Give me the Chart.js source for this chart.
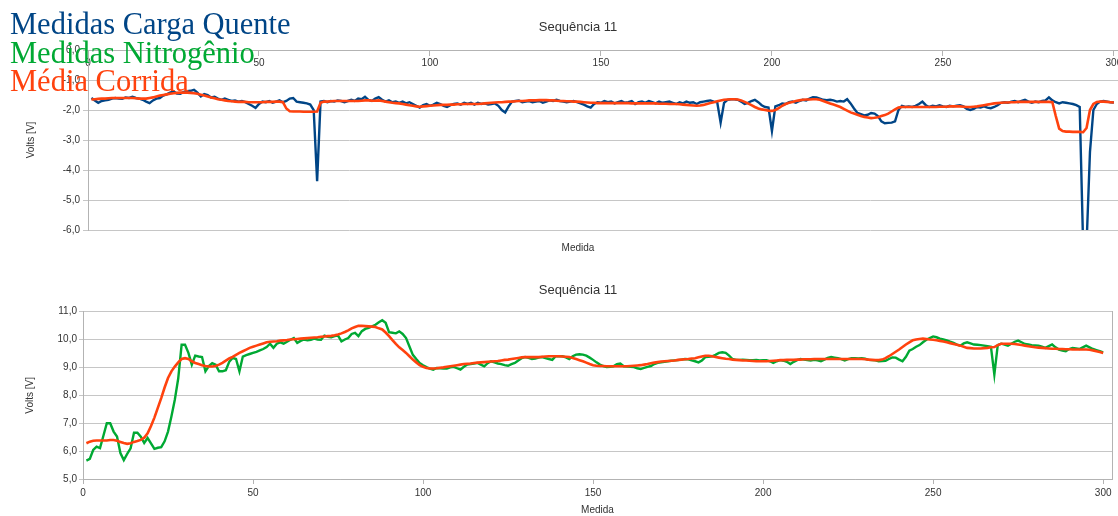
<!DOCTYPE html>
<html>
<head>
<meta charset="utf-8">
<script src="https://cdn.jsdelivr.net/npm/chart.js@4"></script>
<style>
  html, body { margin: 0; padding: 0; background: #fff; overflow: hidden; }
  #wrap { position: relative; width: 1118px; height: 516px; overflow: hidden; }
  #topo { position: absolute; left: 0; top: 0; }
  #baixo { position: absolute; left: 0; top: 260px; }
  #legenda { position: absolute; left: 10px; top: 10px; font-family: "Liberation Serif", serif; font-size: 30.5px; line-height: 28.5px; white-space: nowrap; }
</style>
</head>
<body>
<div id="wrap">
  <canvas id="topo" width="1156" height="260"></canvas>
  <canvas id="baixo" width="1156" height="256"></canvas>
  <div id="legenda">
    <div style="color:#004586">Medidas Carga Quente</div>
    <div style="color:#00a933">Medidas Nitrogênio</div>
    <div style="color:#ff420e">Média Corrida</div>
  </div>
</div>
<script>
// indice da medida (1..300)
const medida = Array.from({ length: 300 }, (_, i) => i + 1);

// grafico de cima: carga quente + media corrida
const cargaQuente = [
  -1.60,-1.68,-1.76,-1.70,-1.68,-1.66,-1.62,-1.60,-1.62,-1.63,
  -1.58,-1.60,-1.56,-1.60,-1.62,-1.66,-1.72,-1.77,-1.68,-1.62,
  -1.60,-1.52,-1.48,-1.42,-1.38,-1.45,-1.46,-1.40,-1.37,-1.36,
  -1.33,-1.42,-1.55,-1.47,-1.50,-1.58,-1.56,-1.62,-1.66,-1.62,
  -1.66,-1.70,-1.68,-1.72,-1.70,-1.74,-1.80,-1.86,-1.93,-1.80,
  -1.72,-1.74,-1.70,-1.76,-1.72,-1.68,-1.74,-1.70,-1.62,-1.60,
  -1.72,-1.74,-1.76,-1.78,-1.82,-2.00,-4.37,-1.72,-1.70,-1.74,
  -1.70,-1.72,-1.68,-1.70,-1.74,-1.70,-1.66,-1.70,-1.62,-1.64,
  -1.56,-1.66,-1.70,-1.62,-1.57,-1.66,-1.72,-1.68,-1.74,-1.72,
  -1.76,-1.72,-1.78,-1.74,-1.80,-1.86,-1.92,-1.84,-1.80,-1.86,
  -1.82,-1.76,-1.80,-1.86,-1.90,-1.84,-1.80,-1.78,-1.82,-1.76,
  -1.80,-1.76,-1.82,-1.76,-1.80,-1.78,-1.82,-1.80,-1.78,-1.86,
  -2.00,-2.08,-1.88,-1.72,-1.70,-1.68,-1.74,-1.72,-1.70,-1.74,
  -1.72,-1.70,-1.76,-1.72,-1.68,-1.70,-1.66,-1.70,-1.72,-1.74,
  -1.72,-1.70,-1.74,-1.78,-1.82,-1.88,-1.92,-1.80,-1.74,-1.76,
  -1.70,-1.74,-1.72,-1.78,-1.74,-1.70,-1.76,-1.74,-1.70,-1.80,
  -1.74,-1.72,-1.76,-1.70,-1.74,-1.78,-1.72,-1.76,-1.74,-1.72,
  -1.76,-1.80,-1.74,-1.78,-1.72,-1.76,-1.74,-1.80,-1.74,-1.72,
  -1.70,-1.68,-1.72,-1.74,-2.42,-1.76,-1.66,-1.64,-1.64,-1.66,
  -1.72,-1.80,-1.76,-1.70,-1.66,-1.74,-1.84,-1.90,-1.92,-2.70,
  -1.88,-1.84,-1.78,-1.80,-1.74,-1.72,-1.76,-1.70,-1.66,-1.68,
  -1.62,-1.57,-1.58,-1.62,-1.66,-1.67,-1.66,-1.68,-1.72,-1.70,
  -1.72,-1.64,-1.78,-1.95,-2.10,-2.14,-2.18,-2.16,-2.10,-2.12,
  -2.20,-2.38,-2.44,-2.43,-2.42,-2.38,-2.00,-1.86,-1.90,-1.88,
  -1.90,-1.86,-1.80,-1.72,-1.84,-1.90,-1.86,-1.88,-1.84,-1.88,
  -1.90,-1.86,-1.88,-1.86,-1.84,-1.88,-1.96,-2.00,-1.96,-1.90,
  -1.92,-1.88,-1.92,-1.94,-1.90,-1.84,-1.76,-1.74,-1.76,-1.72,
  -1.70,-1.74,-1.70,-1.66,-1.72,-1.76,-1.72,-1.74,-1.70,-1.68,
  -1.58,-1.68,-1.74,-1.78,-1.74,-1.76,-1.78,-1.80,-1.84,-1.90,
  -6.50,-6.50,-3.40,-2.00,-1.80,-1.72,-1.70,-1.72,-1.74,-1.75
];

const mediaTopo = [
  -1.65,-1.64,-1.63,-1.62,-1.62,-1.61,-1.60,-1.60,-1.60,-1.60,
  -1.60,-1.60,-1.60,-1.61,-1.62,-1.62,-1.62,-1.60,-1.58,-1.55,
  -1.52,-1.50,-1.48,-1.46,-1.44,-1.43,-1.42,-1.42,-1.42,-1.43,
  -1.44,-1.46,-1.49,-1.52,-1.55,-1.58,-1.61,-1.64,-1.66,-1.68,
  -1.70,-1.71,-1.72,-1.73,-1.73,-1.73,-1.74,-1.74,-1.74,-1.74,
  -1.74,-1.73,-1.73,-1.73,-1.72,-1.72,-1.74,-1.95,-2.04,-2.05,
  -2.05,-2.05,-2.06,-2.06,-2.06,-2.06,-2.05,-1.76,-1.72,-1.72,
  -1.71,-1.70,-1.70,-1.70,-1.70,-1.70,-1.70,-1.70,-1.70,-1.69,
  -1.68,-1.68,-1.69,-1.69,-1.68,-1.70,-1.72,-1.74,-1.76,-1.77,
  -1.78,-1.80,-1.82,-1.84,-1.86,-1.88,-1.89,-1.88,-1.87,-1.86,
  -1.85,-1.84,-1.83,-1.83,-1.83,-1.82,-1.82,-1.81,-1.81,-1.80,
  -1.80,-1.80,-1.80,-1.80,-1.79,-1.78,-1.77,-1.76,-1.75,-1.74,
  -1.74,-1.73,-1.72,-1.72,-1.71,-1.70,-1.70,-1.69,-1.68,-1.68,
  -1.68,-1.67,-1.67,-1.67,-1.68,-1.68,-1.69,-1.70,-1.70,-1.71,
  -1.71,-1.72,-1.72,-1.73,-1.74,-1.75,-1.76,-1.76,-1.77,-1.77,
  -1.77,-1.77,-1.77,-1.77,-1.77,-1.77,-1.77,-1.77,-1.78,-1.78,
  -1.78,-1.78,-1.78,-1.78,-1.78,-1.78,-1.79,-1.79,-1.79,-1.80,
  -1.80,-1.80,-1.81,-1.82,-1.83,-1.84,-1.85,-1.86,-1.85,-1.83,
  -1.80,-1.77,-1.74,-1.71,-1.68,-1.66,-1.65,-1.64,-1.64,-1.65,
  -1.68,-1.73,-1.78,-1.84,-1.90,-1.95,-1.98,-2.00,-2.02,-2.03,
  -2.00,-1.94,-1.86,-1.80,-1.76,-1.73,-1.70,-1.68,-1.66,-1.65,
  -1.65,-1.64,-1.64,-1.66,-1.70,-1.74,-1.78,-1.82,-1.86,-1.90,
  -1.96,-2.02,-2.08,-2.12,-2.16,-2.20,-2.23,-2.25,-2.27,-2.26,
  -2.24,-2.20,-2.17,-2.12,-2.05,-1.98,-1.92,-1.90,-1.90,-1.90,
  -1.90,-1.90,-1.90,-1.90,-1.90,-1.90,-1.90,-1.90,-1.89,-1.89,
  -1.89,-1.88,-1.88,-1.88,-1.88,-1.89,-1.90,-1.90,-1.89,-1.88,
  -1.86,-1.84,-1.82,-1.80,-1.78,-1.77,-1.76,-1.75,-1.75,-1.74,
  -1.74,-1.73,-1.73,-1.73,-1.73,-1.73,-1.73,-1.73,-1.73,-1.73,
  -1.73,-1.74,-2.20,-2.62,-2.70,-2.72,-2.72,-2.73,-2.73,-2.73,
  -2.74,-2.60,-2.00,-1.80,-1.73,-1.72,-1.72,-1.73,-1.74,-1.75
];

// grafico de baixo: nitrogenio + media corrida
const nitrogenio = [
  5.66,5.72,6.04,6.16,6.11,6.55,7.00,7.00,6.70,6.52,
  5.93,5.68,5.90,6.10,6.66,6.66,6.52,6.29,6.47,6.28,
  6.08,6.12,6.14,6.35,6.70,7.24,7.84,8.60,9.81,9.81,
  9.52,9.10,9.42,9.39,9.37,8.86,9.05,9.15,9.10,8.86,
  8.86,8.90,9.20,9.34,9.30,8.86,9.39,9.44,9.48,9.52,
  9.56,9.61,9.66,9.73,9.85,9.70,9.85,9.90,9.85,9.92,
  9.99,10.05,9.88,9.95,10.00,9.97,9.99,10.03,10.00,9.99,
  10.14,10.10,10.08,10.12,10.14,9.93,10.00,10.05,10.20,10.24,
  10.12,10.30,10.38,10.42,10.47,10.53,10.62,10.69,10.60,10.26,
  10.24,10.22,10.29,10.20,10.05,9.75,9.45,9.30,9.16,9.08,
  9.01,8.96,8.92,8.98,8.97,8.96,8.96,9.00,9.02,8.97,
  8.92,9.02,9.10,9.12,9.14,9.16,9.10,9.04,9.15,9.22,
  9.18,9.14,9.12,9.08,9.06,9.12,9.16,9.25,9.33,9.37,
  9.34,9.30,9.32,9.35,9.37,9.33,9.30,9.27,9.40,9.40,
  9.40,9.36,9.30,9.40,9.46,9.47,9.46,9.42,9.35,9.27,
  9.18,9.10,9.05,9.01,9.02,9.04,9.12,9.14,9.04,9.03,
  9.02,9.01,8.97,8.94,8.98,9.02,9.05,9.12,9.16,9.18,
  9.20,9.22,9.24,9.25,9.26,9.28,9.30,9.29,9.25,9.22,
  9.18,9.25,9.37,9.38,9.40,9.45,9.52,9.54,9.52,9.42,
  9.30,9.27,9.27,9.28,9.27,9.26,9.26,9.27,9.25,9.26,
  9.26,9.22,9.16,9.22,9.26,9.24,9.20,9.12,9.20,9.26,
  9.30,9.28,9.26,9.25,9.27,9.25,9.22,9.28,9.34,9.37,
  9.35,9.33,9.30,9.25,9.30,9.33,9.33,9.32,9.33,9.31,
  9.27,9.26,9.25,9.22,9.23,9.24,9.30,9.36,9.35,9.28,
  9.22,9.38,9.60,9.66,9.74,9.80,9.90,9.99,10.05,10.11,
  10.08,10.03,10.00,9.97,9.92,9.88,9.82,9.78,9.86,9.90,
  9.86,9.82,9.81,9.80,9.78,9.76,9.74,8.74,9.80,9.85,
  9.82,9.78,9.85,9.92,9.96,9.90,9.84,9.82,9.80,9.79,
  9.78,9.74,9.70,9.76,9.82,9.72,9.64,9.60,9.58,9.66,
  9.70,9.68,9.66,9.72,9.78,9.72,9.66,9.62,9.58,9.54
];

const mediaBaixo = [
  6.28,6.34,6.37,6.38,6.38,6.38,6.38,6.40,6.40,6.37,
  6.33,6.29,6.26,6.28,6.33,6.36,6.40,6.48,6.64,6.90,
  7.20,7.55,7.90,8.28,8.62,8.86,9.03,9.18,9.30,9.33,
  9.30,9.22,9.16,9.12,9.08,9.05,9.03,9.03,9.05,9.10,
  9.16,9.24,9.32,9.38,9.45,9.52,9.58,9.64,9.70,9.74,
  9.78,9.82,9.86,9.90,9.92,9.93,9.94,9.96,9.97,9.98,
  10.00,10.01,10.02,10.03,10.04,10.05,10.06,10.07,10.08,10.10,
  10.11,10.12,10.13,10.15,10.18,10.22,10.27,10.33,10.40,10.45,
  10.49,10.49,10.48,10.47,10.46,10.45,10.40,10.36,10.25,10.12,
  9.98,9.84,9.72,9.62,9.52,9.40,9.28,9.18,9.08,9.02,
  8.98,8.96,8.96,8.97,8.99,9.00,9.02,9.04,9.06,9.08,
  9.10,9.12,9.13,9.14,9.16,9.17,9.18,9.19,9.20,9.21,
  9.22,9.23,9.25,9.27,9.28,9.30,9.32,9.34,9.36,9.37,
  9.37,9.37,9.37,9.37,9.38,9.39,9.40,9.40,9.40,9.40,
  9.39,9.38,9.37,9.34,9.30,9.26,9.22,9.17,9.12,9.08,
  9.06,9.05,9.05,9.04,9.04,9.04,9.04,9.04,9.04,9.04,
  9.05,9.06,9.07,9.08,9.10,9.12,9.15,9.17,9.19,9.21,
  9.22,9.23,9.24,9.25,9.27,9.28,9.29,9.30,9.32,9.33,
  9.36,9.39,9.42,9.42,9.40,9.37,9.35,9.33,9.31,9.30,
  9.28,9.27,9.26,9.25,9.25,9.24,9.23,9.22,9.22,9.22,
  9.22,9.23,9.24,9.25,9.26,9.26,9.27,9.27,9.27,9.28,
  9.28,9.29,9.29,9.29,9.30,9.30,9.30,9.30,9.30,9.30,
  9.30,9.30,9.30,9.30,9.30,9.30,9.30,9.30,9.30,9.29,
  9.28,9.27,9.26,9.26,9.28,9.33,9.40,9.48,9.56,9.64,
  9.73,9.82,9.90,9.97,10.00,10.02,10.03,10.02,10.00,9.99,
  9.97,9.95,9.93,9.90,9.87,9.84,9.81,9.78,9.74,9.70,
  9.69,9.68,9.68,9.68,9.69,9.70,9.72,9.73,9.80,9.85,
  9.85,9.85,9.85,9.84,9.82,9.80,9.78,9.76,9.74,9.72,
  9.71,9.70,9.69,9.68,9.67,9.67,9.66,9.66,9.65,9.65,
  9.64,9.64,9.64,9.64,9.64,9.63,9.61,9.58,9.55,9.52
];

const AZUL = '#004586';
const VERDE = '#00a933';
const LARANJA = '#ff420e';
const GRADE = '#c6c6c6';
const EIXO = '#b3b3b3';

Chart.defaults.font.family = '"Liberation Sans", Arial, sans-serif';
Chart.defaults.font.size = 10;
Chart.defaults.color = '#333';

const pontos = serie => serie.map((v, i) => ({ x: medida[i], y: v }));
const virgula = v => (Math.round(v * 10) / 10).toFixed(1).replace('.', ',');

const titulo = (top, bottom) => ({
  display: true,
  text: 'Sequência 11',
  color: '#333',
  font: { size: 13, weight: 'normal' },
  padding: { top: top, bottom: bottom }
});

// eixo vazio a direita, so para reservar espaco (e desenhar a borda no de baixo)
const eixoDireita = (largura, borda) => ({
  position: 'right', min: 0, max: 1,
  ticks: { display: false },
  grid: { display: false, drawTicks: false },
  border: { display: borda, color: EIXO },
  afterFit: s => { s.width = largura; }
});

new Chart(document.getElementById('topo'), {
  type: 'line',
  data: {
    datasets: [
      { label: 'Média Corrida', data: pontos(mediaTopo), borderColor: LARANJA, borderWidth: 2.6, pointRadius: 0, order: 0 },
      { label: 'Medidas Carga Quente', data: pontos(cargaQuente), borderColor: AZUL, borderWidth: 2.4, pointRadius: 0, order: 1 }
    ]
  },
  options: {
    responsive: false,
    animation: false,
    layout: { padding: 0 },
    plugins: {
      legend: { display: false },
      tooltip: { enabled: false },
      title: titulo(20, 14.4),
      subtitle: {
        display: true, position: 'bottom', text: 'Medida', color: '#333',
        font: { size: 10 }, padding: { top: 12, bottom: 6 }
      }
    },
    scales: {
      x: {
        type: 'linear', position: { y: 0 }, min: 0, max: 305,
        ticks: { stepSize: 50, includeBounds: false, padding: 2 },
        grid: { drawOnChartArea: false, tickLength: 5, color: EIXO },
        border: { color: EIXO }
      },
      y: {
        min: -6, max: 0,
        ticks: { stepSize: 1, padding: 3, callback: virgula },
        grid: { color: GRADE, tickLength: 5 },
        border: { color: EIXO },
        title: { display: true, text: 'Volts [V]', padding: { top: 25, bottom: 0 } },
        afterFit: s => { s.width = 88; }
      },
      y2: eixoDireita(25, false)
    }
  }
});

new Chart(document.getElementById('baixo'), {
  type: 'line',
  data: {
    datasets: [
      { label: 'Média Corrida', data: pontos(mediaBaixo), borderColor: LARANJA, borderWidth: 2.6, pointRadius: 0, order: 0 },
      { label: 'Medidas Nitrogênio', data: pontos(nitrogenio), borderColor: VERDE, borderWidth: 2.4, pointRadius: 0, order: 1 }
    ]
  },
  options: {
    responsive: false,
    animation: false,
    layout: { padding: 0 },
    plugins: {
      legend: { display: false },
      tooltip: { enabled: false },
      title: titulo(23, 13)
    },
    scales: {
      x: {
        type: 'linear', position: 'bottom', min: 0, max: 302.6,
        ticks: { stepSize: 50, includeBounds: false, padding: 3 },
        grid: { drawOnChartArea: false, tickLength: 5, color: EIXO },
        border: { color: EIXO },
        title: { display: true, text: 'Medida', padding: { top: 0, bottom: 0 } },
        afterFit: s => { s.height = 37; }
      },
      y: {
        min: 5, max: 11,
        ticks: { stepSize: 1, padding: 2, callback: virgula },
        grid: { color: GRADE, tickLength: 4 },
        border: { color: EIXO },
        title: { display: true, text: 'Volts [V]', padding: { top: 24, bottom: 0 } },
        afterFit: s => { s.width = 83; }
      },
      y2: eixoDireita(44, true)
    }
  }
});
</script>
</body>
</html>
